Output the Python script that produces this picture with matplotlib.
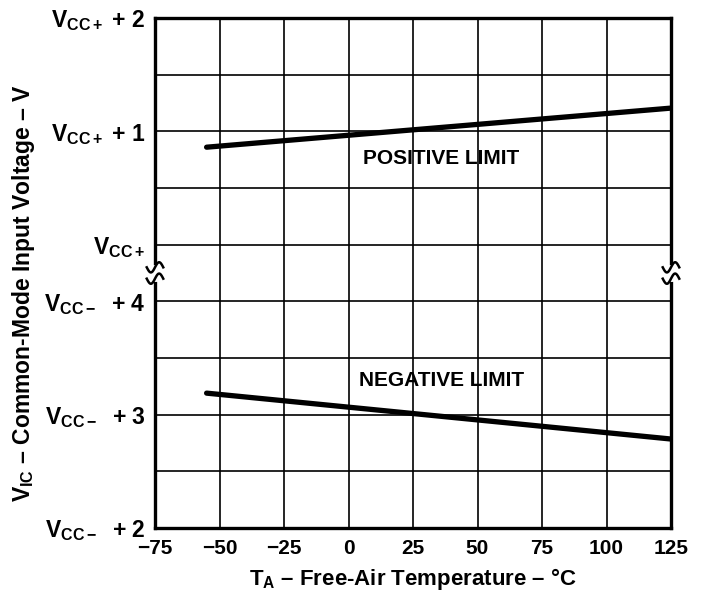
import matplotlib
matplotlib.use('Agg')
import matplotlib.pyplot as plt
import numpy as np

plt.rcParams['font.family'] = 'Liberation Sans'
plt.rcParams['font.weight'] = 'bold'
plt.rcParams['mathtext.fontset'] = 'custom'
plt.rcParams['mathtext.rm'] = 'Liberation Sans:bold'
plt.rcParams['mathtext.it'] = 'Liberation Sans:bold'
plt.rcParams['mathtext.bf'] = 'Liberation Sans:bold'

# Data (volts above the rail)
temperature = [-55, 125]
positive_limit = [0.86, 1.205]   # V above VCC+
negative_limit = [3.19, 2.785]   # V above VCC-

x_ticks = [-75, -50, -25, 0, 25, 50, 75, 100, 125]
x_labels = ['\u221275', '\u221250', '\u221225', '0', '25', '50', '75', '100', '125']
y_tick_labels = [r'$\mathrm{V_{CC-}}$  + 2', r'$\mathrm{V_{CC-}}$  + 3', r'$\mathrm{V_{CC-}}$  + 4',
                 r'$\mathrm{V_{CC+}}$', r'$\mathrm{V_{CC+}}$ + 1', r'$\mathrm{V_{CC+}}$ + 2']


# broken axis: lower part 0..4, gap 4..5, upper part 5..9 (one unit = 0.5 V)
def upper(v):
    return 5 + np.asarray(v) / 0.5


def lower(v):
    return (np.asarray(v) - 2) / 0.5


fig = plt.figure(figsize=(7.02, 5.95), dpi=100)
ax = fig.add_axes([155 / 702, 1 - 528 / 595, 516 / 702, 510 / 595])
ax.set_xlim(-75, 125)
ax.set_ylim(0, 9)

# grid
for x in x_ticks[1:-1]:
    ax.axvline(x, color='black', lw=1.2, zorder=1)
for y in [1, 2, 3, 4, 5, 6, 7, 8]:
    ax.axhline(y, color='black', lw=1.2, zorder=1)

ax.plot(temperature, upper(positive_limit), color='black', lw=3.8, solid_capstyle='round', zorder=3)
ax.plot(temperature, lower(negative_limit), color='black', lw=3.8, solid_capstyle='round', zorder=3)

ax.text(36, 6.52, 'POSITIVE LIMIT', ha='center', va='center', fontsize=15, fontweight='bold')
ax.text(36, 2.6, 'NEGATIVE LIMIT', ha='center', va='center', fontsize=15, fontweight='bold')

for s in ax.spines.values():
    s.set_linewidth(2.4)

ax.set_xticks(x_ticks)
ax.set_xticklabels(x_labels, fontsize=15, fontweight='bold')
ax.set_yticks([0, 2, 4, 5, 7, 9])
ax.set_yticklabels(y_tick_labels, fontsize=16.5, fontweight='bold')
ax.tick_params(axis='x', length=0, pad=8)
ax.tick_params(axis='y', length=0, pad=7)

# break marks on both spines
t = np.linspace(-1, 1, 40)
for xc in (-75, 125):
    for dy in (-0.1, 0.1):
        ax.plot(xc + t * 3.2, 4.5 + dy + 0.09 * np.sin(t * np.pi), color='black', lw=1.8,
                clip_on=False, zorder=5)
    ax.plot([xc, xc], [4.4, 4.6], color='white', lw=3.5, clip_on=False, zorder=4)

ax.set_xlabel(r'$\mathrm{T_A}$ ' + '\u2013 Free-Air Temperature \u2013 \u00b0C',
              fontsize=16, fontweight='bold', labelpad=6)
ax.set_ylabel(r'$\mathrm{V_{IC}}$ ' + '\u2013 Common-Mode Input Voltage \u2013 V',
              fontsize=16.5, fontweight='bold')
ax.yaxis.set_label_coords(-0.228, 0.46)

fig.savefig('out.png', dpi=100)
